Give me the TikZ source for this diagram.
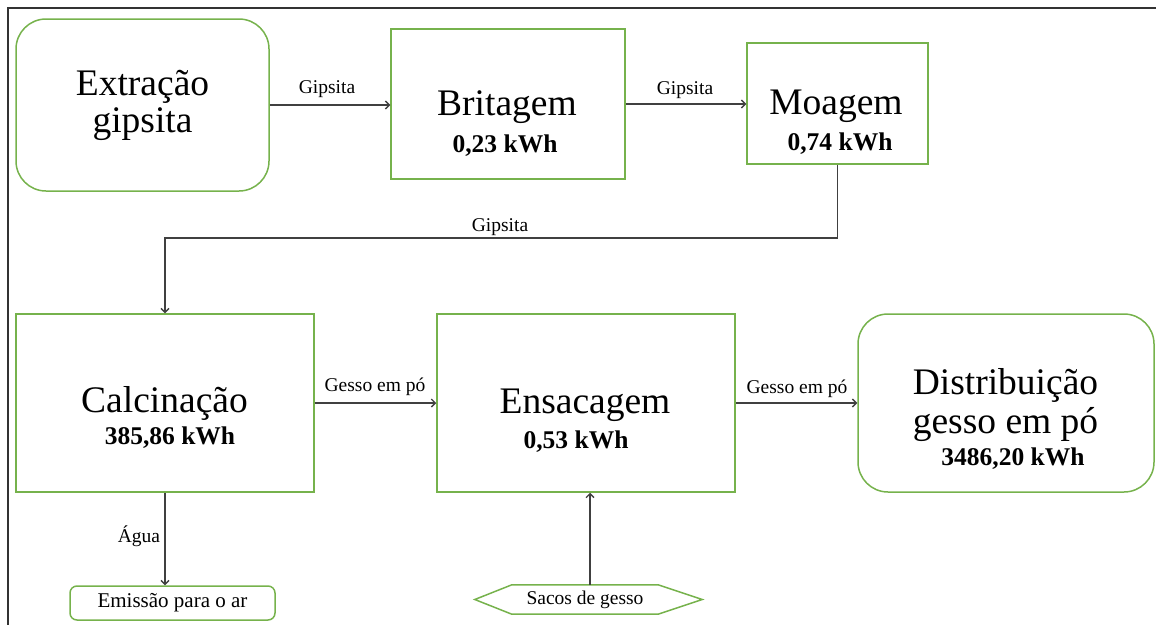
\documentclass[tikz,border=0pt]{standalone}
\usepackage{fontspec}
\setmainfont{Liberation Serif}
\usetikzlibrary{arrows.meta,calc}
\definecolor{boxgreen}{RGB}{118,178,76}
\definecolor{arrgray}{RGB}{64,64,64}
\newcommand{\bigf}{\fontsize{37.5}{37}\selectfont}
\newcommand{\kwhf}{\fontsize{25.5}{28}\selectfont\bfseries}
\newcommand{\lblf}{\fontsize{19.5}{22}\selectfont}
\newcommand{\emisf}{\fontsize{21}{24}\selectfont}
\begin{document}
\begin{tikzpicture}[x=1pt,y=-1pt,
  procbox/.style={draw=boxgreen, line width=1.5pt, inner sep=0pt},
  roundbox/.style={procbox, rounded corners=30pt},
  bigtxt/.style={font=\bigf, inner sep=0pt, anchor=base},
  kwh/.style={font=\kwhf, inner sep=0pt, anchor=base},
  lbl/.style={font=\lblf, inner sep=0pt, anchor=base},
  arr/.style={draw=arrgray, line width=1.3pt, -{Straight Barb[length=4pt,width=8pt]}},
  frameline/.style={draw=black!80, line width=2pt}]
\useasboundingbox (0,0) rectangle (1156,624);
\draw[frameline] (1170,8) -- (8,8) -- (8,640);

% process boxes
\node[roundbox, minimum width=253pt, minimum height=172pt, align=center, font=\bigf] (ext) at (142.5,105) {Extração\\gipsita};

\node[procbox, minimum width=234pt, minimum height=150pt] (brit) at (508,104) {};
\node[bigtxt] (britT) at (507,115) {Britagem};
\node[kwh] (britK) at (505,152) {0,23 kWh};

\node[procbox, minimum width=181pt, minimum height=121pt] (moag) at (837.5,103.5) {};
\node[bigtxt] (moagT) at (836,114) {Moagem};
\node[kwh] (moagK) at (840,150) {0,74 kWh};

\node[procbox, minimum width=298pt, minimum height=178pt] (calc) at (165,403) {};
\node[bigtxt] (calcT) at (164.5,412) {Calcinação};
\node[kwh] (calcK) at (170,444) {385,86 kWh};

\node[procbox, minimum width=298pt, minimum height=178pt] (ens) at (586,403) {};
\node[bigtxt] (ensT) at (585,413) {Ensacagem};
\node[kwh] (ensK) at (576,448) {0,53 kWh};

\node[roundbox, minimum width=296pt, minimum height=178pt] (dist) at (1006,403) {};
\node[bigtxt] (distT1) at (1005.5,394) {Distribuição};
\node[bigtxt] (distT2) at (1005.5,433) {gesso em pó};
\node[kwh] (distK) at (1013,465) {3486,20 kWh};

\node[procbox, rounded corners=7pt, minimum width=205pt, minimum height=34pt, font=\emisf] (emis) at (172.5,603) {Emissão para o ar};

\node[inner sep=0pt, minimum width=146pt, minimum height=29pt, font=\lblf] (sacos) at (585,599.5) {Sacos de gesso};
\draw[draw=boxgreen, line width=1.5pt] (sacos.north west) -- (sacos.north east) -- ($(sacos.east)+(44,0)$) -- (sacos.south east) -- (sacos.south west) -- ($(sacos.west)+(-37,0)$) -- cycle;

% connectors
\draw[arr] (ext.east) -- (ext.east -| brit.west);
\node[lbl] (g1) at (327,93) {Gipsita};

\draw[arr] (brit.east) -- (brit.east -| moag.west);
\node[lbl] (g2) at (685,94) {Gipsita};

\coordinate (turn) at (837.5,238);
\draw[arr] (moag.south) -- (turn) -| (calc.north);
\node[lbl] (g3) at (500,231) {Gipsita};

\draw[arr] (calc.east) -- (ens.west);
\node[lbl] (gp1) at (375,391) {Gesso em pó};

\draw[arr] (ens.east) -- (dist.west);
\node[lbl] (gp2) at (797,393) {Gesso em pó};

\draw[arr] (calc.south) -- (calc.south |- emis.north);
\node[lbl] (agua) at (139,542) {Água};

\draw[arr] ([xshift=5pt]sacos.north) -- ([xshift=5pt]sacos.north |- ens.south);
\end{tikzpicture}
\end{document}
